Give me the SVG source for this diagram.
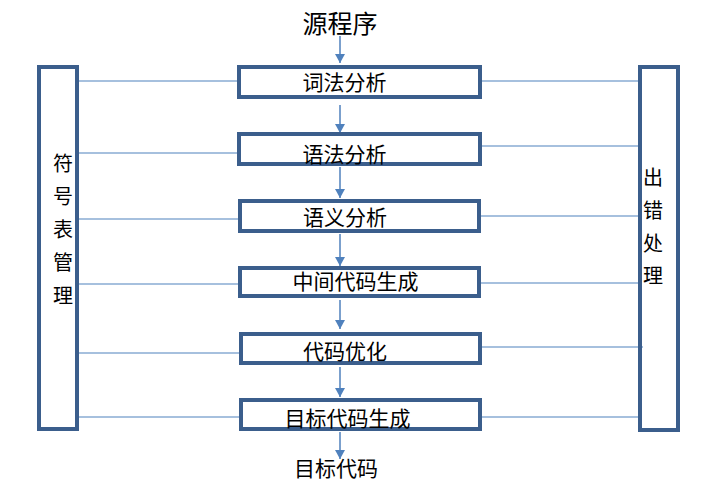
<svg xmlns="http://www.w3.org/2000/svg" width="707" height="482" viewBox="0 0 707 482">
<defs>
<marker id="ah" markerWidth="10" markerHeight="10" refX="9" refY="5" orient="auto" markerUnits="userSpaceOnUse">
<path d="M0,0 L9,5 L0,10 z" fill="#4f81bd"/>
</marker>
<style>
.box{fill:#fff;stroke:#3b5e8c;stroke-width:4}
.side{fill:none;stroke:#3b5e8c;stroke-width:4}
.t{font-family:"Noto Sans CJK SC","Liberation Sans",sans-serif;font-size:21px;fill:#000;text-anchor:middle}
.s{font-size:20px}
.link{stroke:#4f81bd;stroke-width:1.2;fill:none}
.arr{stroke:#4f81bd;stroke-width:1.5;fill:none;marker-end:url(#ah)}
</style>
</defs>
<rect width="707" height="482" fill="#fff"/>
<g id="connectors">
<line class="link" x1="79" y1="81" x2="239" y2="81"/>
<line class="link" x1="79" y1="153" x2="239" y2="153"/>
<line class="link" x1="79" y1="219" x2="239" y2="219"/>
<line class="link" x1="79" y1="284" x2="239" y2="284"/>
<line class="link" x1="79" y1="353" x2="239" y2="353"/>
<line class="link" x1="79" y1="417" x2="239" y2="417"/>
<line class="link" x1="481" y1="81" x2="640" y2="81"/>
<line class="link" x1="481" y1="146" x2="640" y2="146"/>
<line class="link" x1="481" y1="216" x2="640" y2="216"/>
<line class="link" x1="481" y1="283" x2="640" y2="283"/>
<line class="link" x1="481" y1="347" x2="643" y2="347"/>
<line class="link" x1="481" y1="417" x2="640" y2="417"/>
<line class="arr" x1="340" y1="36" x2="340" y2="63"/>
<line class="arr" x1="340" y1="105" x2="340" y2="133"/>
<line class="arr" x1="340" y1="167" x2="340" y2="198"/>
<line class="arr" x1="340" y1="234" x2="340" y2="266"/>
<line class="arr" x1="340" y1="300" x2="340" y2="329"/>
<line class="arr" x1="340" y1="367" x2="340" y2="397"/>
<line class="arr" x1="340" y1="432" x2="340" y2="459"/>
</g>
<g id="symtab">
<rect class="side" x="39" y="67" width="38" height="362"/>
<text class="t s" x="63" y="171">符</text>
<text class="t s" x="63" y="204">号</text>
<text class="t s" x="63" y="237">表</text>
<text class="t s" x="63" y="270">管</text>
<text class="t s" x="63" y="303">理</text>
</g>
<g id="errhandle">
<rect class="side" x="640" y="67" width="38" height="363"/>
<text class="t s" x="653" y="185">出</text>
<text class="t s" x="653" y="218">错</text>
<text class="t s" x="653" y="251">处</text>
<text class="t s" x="653" y="283">理</text>
</g>
<g id="src"><text class="t" x="340" y="33" style="font-size:25px">源程序</text></g>
<g id="lex">
<rect class="box" x="239" y="67" width="241" height="30"/>
<text class="t" x="344.5" y="89.5">词法分析</text>
</g>
<g id="syn">
<rect class="box" x="239" y="134" width="241" height="30"/>
<text class="t" x="344.5" y="161.5">语法分析</text>
</g>
<g id="sem">
<rect class="box" x="240" y="201" width="239" height="30"/>
<text class="t" x="345" y="224.5">语义分析</text>
</g>
<g id="ir">
<rect class="box" x="240" y="268" width="239" height="28"/>
<text class="t" x="355.5" y="288.5">中间代码生成</text>
</g>
<g id="opt">
<rect class="box" x="241" y="334" width="239" height="29"/>
<text class="t" x="345" y="358.5">代码优化</text>
</g>
<g id="gen">
<rect class="box" x="241" y="400" width="239" height="29"/>
<text class="t" x="347.5" y="425.5">目标代码生成</text>
</g>
<g id="out"><text class="t" x="336" y="475.5">目标代码</text></g>
</svg>
